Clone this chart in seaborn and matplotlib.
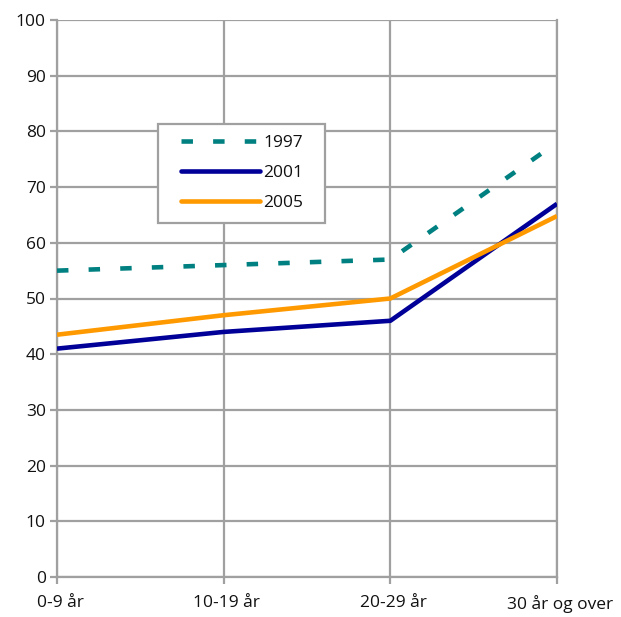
import matplotlib
matplotlib.use("Agg")
import matplotlib.pyplot as plt
from matplotlib.patches import Rectangle
from matplotlib.transforms import ScaledTranslation
import seaborn as sns
import pandas as pd

categories = ["0-9 år", "10-19 år", "20-29 år", "30 år og over"]
years = ["1997", "2001", "2005"]
v1997 = [55, 56, 57, 78]
v2001 = [41, 44, 46, 67]
v2005 = [43.5, 47, 50, 64.8]
yticks = list(range(0, 101, 10))

rows = []
for yr, vals in zip(years, [v1997, v2001, v2005]):
    for i, v in enumerate(vals):
        rows.append({"pos": i, "value": v, "year": yr})
df = pd.DataFrame(rows)

sns.set_style("white")
plt.rcParams["font.family"] = ["Open Sans", "DejaVu Sans"]

fig = plt.figure(figsize=(6.21, 6.17), dpi=100)
ax = fig.add_axes([57/621, 1-577/617, 500/621, 557/617])

palette = {"1997": "#008080", "2001": "#000099", "2005": "#FF9900"}
dashes = {"1997": (2.5, 4.4), "2001": "", "2005": ""}
sns.lineplot(data=df, x="pos", y="value", hue="year", style="year",
             palette=palette, dashes=dashes, linewidth=3.3, ax=ax,
             legend=True, zorder=3)
for ln in ax.get_lines():
    ln.set_dash_capstyle("butt")
    ln.set_solid_capstyle("butt")

ax.set_xlim(0, 3)
ax.set_ylim(0, 100)
ax.set_xticks(range(len(categories)))
ax.set_xticklabels(categories)
ax.set_yticks(yticks)
ax.set_xlabel("")
ax.set_ylabel("")

grid_c = "#A0A0A0"
ax.grid(True, color=grid_c, linewidth=1.6, zorder=0)
ax.set_axisbelow(True)
for s in ["left", "bottom", "right", "top"]:
    ax.spines[s].set_color(grid_c)
    ax.spines[s].set_linewidth(1.6)
ax.spines["top"].set_visible(False)
ax.tick_params(axis="both", colors=grid_c, labelcolor="#111111",
               length=5, width=1.6, labelsize=12.5, direction="out",
               left=True, bottom=True)
ax.tick_params(axis="x", pad=8)
ax.tick_params(axis="y", pad=3)

shift = ScaledTranslation(3/100, 0, fig.dpi_scale_trans)
for lab in ax.get_xticklabels():
    lab.set_transform(lab.get_transform() + shift)

# legend frame
frame = Rectangle((0.202, 0.6355), 0.334, 0.1775, transform=ax.transAxes,
                  facecolor="white", edgecolor=grid_c, linewidth=1.6,
                  zorder=4)
ax.add_patch(frame)

handles, labels = ax.get_legend_handles_labels()
for h in handles:
    h.set_linewidth(3.3)
    h.set_solid_capstyle("round")
    h.set_dash_capstyle("butt")
leg = ax.legend(handles, labels, loc="center left",
                bbox_to_anchor=(0.248, 0.7255), fontsize=12.5,
                handlelength=4.55, handletextpad=0.17, labelspacing=0.8,
                borderpad=0, frameon=False, borderaxespad=0)
for t in leg.get_texts():
    t.set_color("#111111")
leg.set_zorder(5)

fig.savefig("out.png", dpi=100, facecolor="white")
